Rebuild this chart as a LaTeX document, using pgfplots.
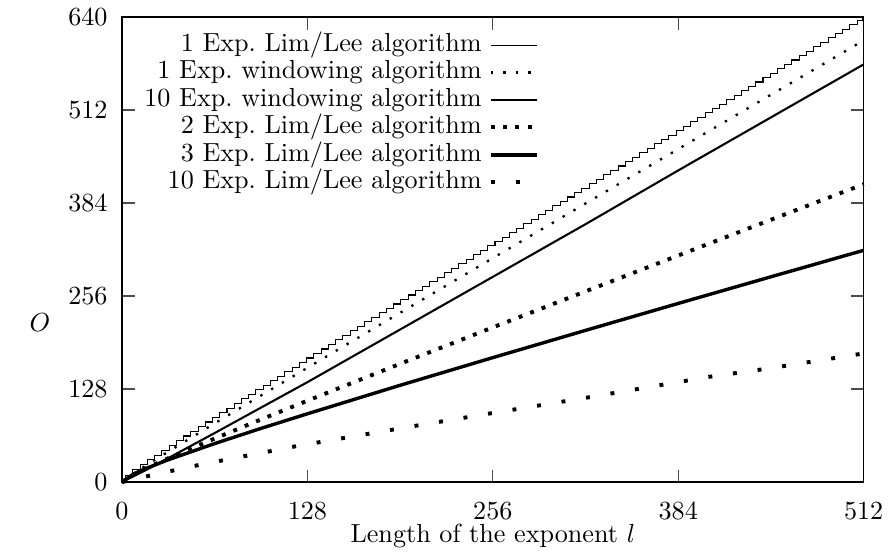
\documentclass[border=0pt]{standalone}
\usepackage{pgfplots}
\pgfplotsset{compat=1.18}
\usepackage{pgfplotstable}
\pgfplotstableread{
x y
0 0
5 9.4
10 16.7
15 23.7
20 30.5
25 37.2
30 43.8
35 50.4
40 56.9
45 63.4
50 69.9
55 76.3
60 82.7
65 89.1
70 95.4
75 101.8
80 108.1
85 114.4
90 120.7
95 127.0
100 133.3
105 139.6
110 145.8
115 152.1
120 158.3
125 164.6
130 170.8
135 177.0
140 183.2
145 189.4
150 195.7
155 201.8
160 208.0
165 214.2
170 220.4
175 226.6
180 232.8
185 239.0
190 245.1
195 251.3
200 257.5
205 263.6
210 269.8
215 275.9
220 282.1
225 288.2
230 294.4
235 300.5
240 306.7
245 312.8
250 318.9
255 325.1
260 331.2
265 337.3
270 343.5
275 349.6
280 355.7
285 361.8
290 367.9
295 374.0
300 380.2
305 386.3
310 392.4
315 398.5
320 404.6
325 410.7
330 416.8
335 422.9
340 429.0
345 435.1
350 441.2
355 447.3
360 453.4
365 459.5
370 465.6
375 471.6
380 477.7
385 483.8
390 489.9
395 496.0
400 502.1
405 508.1
410 514.2
415 520.3
420 526.4
425 532.5
430 538.5
435 544.6
440 550.7
445 556.8
450 562.8
455 568.9
460 575.0
465 581.0
470 587.1
475 593.2
480 599.2
485 605.3
490 611.4
495 617.4
500 623.5
505 629.5
510 635.6
512 638.0
}\limleeone
\pgfplotstableread{
x y
0 0
8 11.8
16 22.1
32 41.9
64 80.8
96 119.2
128 157.3
192 233.0
256 308.3
320 383.5
384 458.4
448 533.2
512 608.0
}\winone
\pgfplotstableread{
x y
0 0
16 16
32 33
64 67.5
128 137.5
192 210
256 282.5
320 355
384 429
448 502
512 575
}\winten
\pgfplotstableread{
x y
0 0
8 10.6
16 18.4
32 32.8
64 59.9
96 86.2
128 112.0
192 162.8
256 212.9
320 262.5
384 311.9
448 361.1
512 410.0
}\limleetwo
\pgfplotstableread{
x y
0 0
8 11.2
16 18.3
32 30.7
64 53.0
96 73.9
128 94.0
192 133.2
256 171.3
320 208.8
384 245.9
448 282.6
512 319.0
}\limleethree
\pgfplotstableread{
x y
0 0
19.5 9
53 23.5
86.7 36.5
120.4 49.5
192 73.9
256 95.1
320 115.9
404.7 144.7
448 156.9
512 177.1
}\limleeten
\begin{document}
\begin{tikzpicture}
\begin{axis}[
  scale only axis, width=283.8pt, height=177.9pt,
  xmin=0, xmax=512, ymin=0, ymax=640,
  xtick={0,128,...,512}, ytick={0,128,...,640},
  tick align=inside, major tick length=4.8pt,
  axis line style={black, line width=0.5pt},
  tick style={black!70, line width=0.5pt},
  xticklabel style={yshift=-4.5pt},
  yticklabel style={xshift=-2pt},
  clip=false,
  legend plot pos=right,
  legend cell align=right,
  legend image code/.code={\draw[#1] (0pt,0pt) -- (17.6pt,0pt);},
  legend style={at={(axis cs:287.7,619.4)}, anchor=north east,
    draw=none, fill=none, inner sep=0pt, outer sep=0pt,
    row sep=0.6pt, column sep=2.7pt,
    nodes={inner sep=0pt, text height=7.4pt, text depth=2.5pt}},
]
\path (axis cs:-84.2,-95.7) rectangle (axis cs:530.1,662.4);
\addplot[black, line width=0.4pt, const plot mark mid] table {\limleeone};
\addlegendentry{1 Exp.\ Lim/Lee algorithm}
\addplot[black, line width=0.9pt, dash pattern=on 0.9pt off 3.9pt] table {\winone};
\addlegendentry{1 Exp.\ windowing algorithm}
\addplot[black, line width=0.8pt] table {\winten};
\addlegendentry{10 Exp.\ windowing algorithm}
\addplot[black, line width=1.5pt, dash pattern=on 1.5pt off 3.2pt] table {\limleetwo};
\addlegendentry{2 Exp.\ Lim/Lee algorithm}
\addplot[black, line width=1.3pt] table {\limleethree};
\addlegendentry{3 Exp.\ Lim/Lee algorithm}
\addplot[black, line width=1.5pt, dash pattern=on 1.5pt off 8pt] table {\limleeten};
\addlegendentry{10 Exp.\ Lim/Lee algorithm}
\node at (axis cs:-56.7,220.2) {$O$};
\node[anchor=base] at (axis cs:256,-83.8) {Length of the exponent $l$};
\end{axis}
\end{tikzpicture}
\end{document}
